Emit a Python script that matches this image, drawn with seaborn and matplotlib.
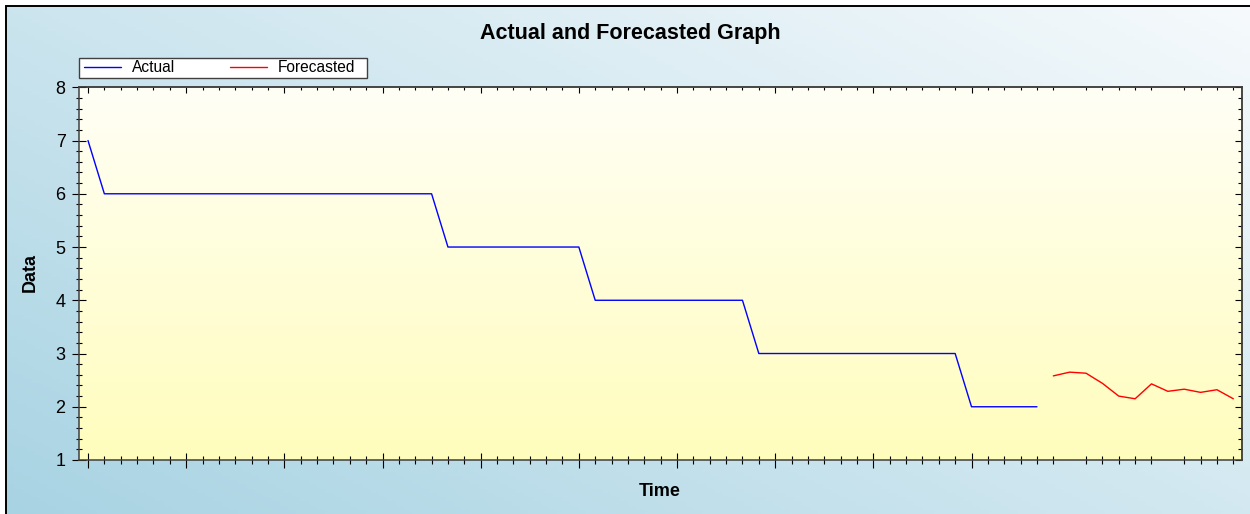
#!/usr/bin/env python3
"""
Actual vs forecasted series, redrawn with seaborn.
"""

import numpy as np
import pandas as pd
import matplotlib
matplotlib.use("Agg")
import matplotlib.pyplot as plt
import seaborn as sns
from matplotlib.ticker import FixedLocator, MultipleLocator, NullFormatter
from matplotlib.patches import Rectangle

# Data
actual_time = [0, 1, 2, 3, 4, 5, 6, 7, 8, 9, 10, 11, 12, 13, 14, 15, 16, 17, 18, 19,
               20, 21, 22, 23, 24, 25, 26, 27, 28, 29, 30, 31, 32, 33, 34, 35, 36, 37, 38, 39,
               40, 41, 42, 43, 44, 45, 46, 47, 48, 49, 50, 51, 52, 53, 54, 55, 56, 57, 58]
actual_values = [7, 6, 6, 6, 6, 6, 6, 6, 6, 6, 6, 6, 6, 6, 6, 6, 6, 6, 6, 6,
                 6, 6, 5, 5, 5, 5, 5, 5, 5, 5, 5, 4, 4, 4, 4, 4, 4, 4, 4, 4,
                 4, 3, 3, 3, 3, 3, 3, 3, 3, 3, 3, 3, 3, 3, 2, 2, 2, 2, 2]
forecast_time = [59, 60, 61, 62, 63, 64, 65, 66, 67, 68, 69, 70]
forecast_values = [2.58, 2.65, 2.63, 2.44, 2.20, 2.15, 2.43, 2.29, 2.33, 2.27, 2.32, 2.15]

x_major = [0, 6, 12, 18, 24, 30, 36, 42, 48, 54]
x_minor = [1, 2, 3, 4, 5, 7, 8, 9, 10, 11, 13, 14, 15, 16, 17, 19, 20, 21, 22, 23,
           25, 26, 27, 28, 29, 31, 32, 33, 34, 35, 37, 38, 39, 40, 41, 43, 44, 45, 46, 47,
           49, 50, 51, 52, 53, 55, 56, 57, 58, 59, 61, 62, 63, 64, 65, 67, 68, 69, 70]
y_ticks = [1, 2, 3, 4, 5, 6, 7, 8]

sns.set_style("ticks")
plt.rcParams['font.family'] = ['Liberation Sans', 'DejaVu Sans']
plt.rcParams['text.color'] = 'black'
plt.rcParams['axes.labelcolor'] = 'black'
plt.rcParams['xtick.color'] = 'black'
plt.rcParams['ytick.color'] = 'black'

W, H = 1250, 514
fig = plt.figure(figsize=(W / 100, H / 100), dpi=100)
fig.patch.set_facecolor("white")

# Figure background gradient (light blue, darker toward bottom-left)
bg = fig.add_axes([6 / W, 0, 1 - 6 / W, 1 - 6 / H], zorder=-5)
gx, gy = np.meshgrid(np.linspace(0, 1, 300), np.linspace(0, 1, 120))
t = np.clip((gx * 0.55 + gy * 0.45), 0, 1)
c0 = np.array([168, 211, 227]) / 255
c1 = np.array([246, 250, 252]) / 255
img = c0[None, None, :] * (1 - t[..., None]) + c1[None, None, :] * t[..., None]
bg.imshow(img, origin="lower", aspect="auto", extent=[0, 1, 0, 1])
bg.set_axis_off()

# Outer border
fig.add_artist(Rectangle((6 / W, -0.1), 1.2, 1.1 - 6 / H, transform=fig.transFigure,
                         fill=False, ec="black", lw=1.4, zorder=10))

ax = fig.add_axes([79 / W, 1 - 460 / H, (1242.3 - 79) / W, (460 - 87.3) / H])

# Plot-area gradient (ivory at top, pale yellow at bottom)
py = np.linspace(0, 1, 200)[:, None]
p0 = np.array([255, 253, 188]) / 255
p1 = np.array([255, 255, 246]) / 255
pimg = (p0[None, :] * (1 - py) + p1[None, :] * py)[:, None, :]
ax.imshow(pimg, origin="lower", aspect="auto", extent=[0, 1, 0, 1],
          transform=ax.transAxes, zorder=0)

df_a = pd.DataFrame({"Time": actual_time, "Data": actual_values})
df_f = pd.DataFrame({"Time": forecast_time, "Data": forecast_values})
sns.lineplot(data=df_a, x="Time", y="Data", ax=ax, color="#0000FF", lw=1.0,
             label="Actual", zorder=3)
sns.lineplot(data=df_f, x="Time", y="Data", ax=ax, color="#FF0000", lw=1.0,
             label="Forecasted", zorder=3)

ax.set_xlim(-0.55, 70.55)
ax.set_ylim(1, 8)

for s in ax.spines.values():
    s.set_visible(True)
    s.set_color("#404040")
    s.set_linewidth(1.1)

ax.set_xticks(x_major)
ax.xaxis.set_minor_locator(FixedLocator(x_minor))
ax.xaxis.set_major_formatter(NullFormatter())
ax.set_yticks(y_ticks)
ax.yaxis.set_minor_locator(MultipleLocator(0.2))
ax.tick_params(axis="x", which="major", direction="inout", length=10.8, width=0.8,
               color="black", top=False)
ax.tick_params(axis="x", which="minor", direction="inout", length=6, width=0.8,
               color="black", top=False)
ax.tick_params(axis="y", which="major", direction="inout", length=9.4, width=0.8,
               color="black", right=False, labelsize=13, pad=5)
ax.tick_params(axis="y", which="minor", direction="inout", length=5, width=0.8,
               color="black", right=False)

# Top and right axes: inward ticks, no labels
top = ax.secondary_xaxis("top")
top.set_xticks(x_major)
top.xaxis.set_minor_locator(FixedLocator(x_minor))
top.xaxis.set_major_formatter(NullFormatter())
top.tick_params(which="major", direction="in", length=4.3, width=0.8, color="black")
top.tick_params(which="minor", direction="in", length=2.2, width=0.8, color="black")
top.spines["top"].set_color("#404040")
top.spines["top"].set_linewidth(1.1)

right = ax.secondary_yaxis("right")
right.set_yticks(y_ticks)
right.yaxis.set_minor_locator(MultipleLocator(0.2))
right.yaxis.set_major_formatter(NullFormatter())
right.tick_params(which="major", direction="in", length=5, width=0.8, color="black")
right.tick_params(which="minor", direction="in", length=2.9, width=0.8, color="black")
right.spines["right"].set_color("#404040")
right.spines["right"].set_linewidth(1.1)

ax.set_xlabel("")
ax.set_ylabel("")
fig.text(660 / W, 1 - 491 / H, "Time", ha="center", va="center",
         fontsize=13, fontweight="bold")
fig.text(30 / W, 1 - 272 / H, "Data", ha="center", va="center", rotation=90,
         fontsize=13, fontweight="bold")
fig.text(630 / W, 1 - 33 / H, "Actual and Forecasted Graph", ha="center", va="center",
         fontsize=15.5, fontweight="bold")

# Legend box drawn as a white frame behind the axes layer, entries placed inside it
fig.add_artist(Rectangle((79 / W, 1 - 77.5 / H), (367 - 79) / W, 19.5 / H,
                         transform=fig.transFigure, fc="white", ec="#404040",
                         lw=1.0, zorder=-1))
leg = ax.legend(loc="center left", bbox_to_anchor=(84 / W, 1 - 67.5 / H),
                bbox_transform=fig.transFigure, ncol=2, frameon=False,
                fontsize=11.2, handlelength=2.37, handletextpad=0.72, columnspacing=3.5,
                borderpad=0, borderaxespad=0)

fig.savefig("out.png", dpi=100)
